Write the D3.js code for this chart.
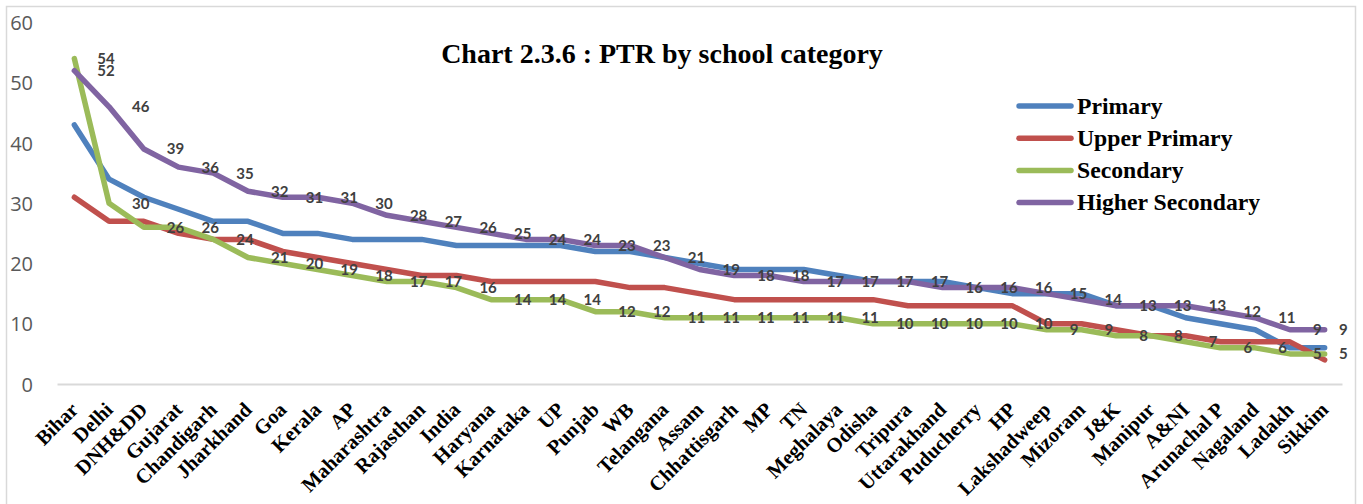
<!DOCTYPE html>
<html>
<head>
<meta charset="utf-8">
<script src="https://cdn.jsdelivr.net/npm/d3@7"></script>
<style>
  html, body { margin: 0; padding: 0; background: #fff; }
  svg { display: block; }
</style>
</head>
<body>
<svg id="chart" width="1363" height="504"></svg>
<script>
const categories = ["Bihar","Delhi","DNH&DD","Gujarat","Chandigarh","Jharkhand","Goa","Kerala","AP","Maharashtra","Rajasthan","India","Haryana","Karnataka","UP","Punjab","WB","Telangana","Assam","Chhattisgarh","MP","TN","Meghalaya","Odisha","Tripura","Uttarakhand","Puducherry","HP","Lakshadweep","Mizoram","J&K","Manipur","A&NI","Arunachal P","Nagaland","Ladakh","Sikkim"];
const primary = [43,34,31,29,27,27,25,25,24,24,24,23,23,23,23,22,22,21,20,19,19,19,18,17,17,17,16,15,15,15,13,13,11,10,9,6,6];
const upperPrimary = [31,27,27,25,24,24,22,21,20,19,18,18,17,17,17,17,16,16,15,14,14,14,14,14,13,13,13,13,10,10,9,8,8,7,7,7,4];
const secondary = [54,30,26,26,24,21,20,19,18,17,17,16,14,14,14,12,12,11,11,11,11,11,11,10,10,10,10,10,9,9,8,8,7,6,6,5,5];
const higherSecondary = [52,46,39,36,35,32,31,31,30,28,27,26,25,24,24,23,23,21,19,18,18,17,17,17,17,16,16,16,15,14,13,13,13,12,11,9,9];
const seriesNames = ["Primary","Upper Primary","Secondary","Higher Secondary"];
const seriesColors = ["#4F81BD","#C0504D","#9BBB59","#8064A2"];
const yTicks = [0,10,20,30,40,50,60];
const titleText = "Chart 2.3.6 : PTR by school category";

const series = [
  {name: seriesNames[0], values: primary, color: seriesColors[0], labels: false},
  {name: seriesNames[1], values: upperPrimary, color: seriesColors[1], labels: false},
  {name: seriesNames[2], values: secondary, color: seriesColors[2], labels: true},
  {name: seriesNames[3], values: higherSecondary, color: seriesColors[3], labels: true}
];

const svg = d3.select("#chart");

// chart area border
svg.append("rect").attr("x", 6.5).attr("y", 6.5).attr("width", 1349).attr("height", 500)
  .attr("fill", "#fff").attr("stroke", "#D9D9D9").attr("stroke-width", 1.5);

const x = d3.scaleBand().domain(categories).range([57, 1342]).padding(0);
const cx = d => x(d) + x.bandwidth() / 2;
const y = d3.scaleLinear().domain([0, 60]).range([384, 22.5]);

// y axis labels
const yAxis = d3.axisLeft(y).tickValues(yTicks).tickSize(0).tickPadding(0);
const yg = svg.append("g").attr("transform", "translate(33,0)").call(yAxis);
yg.select(".domain").remove();
yg.selectAll("text").attr("fill", "#595959").attr("font-family", "'Open Sans', sans-serif")
  .attr("font-size", 20).attr("dy", "0.36em");

// x axis line
const xAxis = d3.axisBottom(x).tickSize(0).tickFormat("");
const xg = svg.append("g").attr("transform", `translate(0,${y(0)})`).call(xAxis);
xg.select(".domain").attr("stroke", "#D9D9D9").attr("stroke-width", 2);

// x labels rotated
svg.append("g").selectAll("text").data(categories).join("text")
  .attr("transform", d => `translate(${cx(d) + 5},${y(0) + 27}) rotate(-45)`)
  .attr("text-anchor", "end")
  .attr("font-family", "'Liberation Serif', 'Times New Roman', serif")
  .attr("font-weight", "bold").attr("font-size", 20.5).attr("fill", "#000")
  .text(d => d);

// lines
const line = d3.line().x((d, i) => cx(categories[i])).y(d => y(d)).curve(d3.curveLinear);
svg.append("g").selectAll("path").data(series).join("path")
  .attr("d", s => line(s.values))
  .attr("fill", "none").attr("stroke", s => s.color).attr("stroke-width", 5.5)
  .attr("stroke-linejoin", "round").attr("stroke-linecap", "round");

// data labels
const lg = svg.append("g");
series.filter(s => s.labels).forEach(s => {
  lg.selectAll(null).data(s.values).join("text")
    .attr("x", (d, i) => Math.min(cx(categories[i]) + 23, 1339))
    .attr("y", d => y(d)).attr("dy", "0.36em")
    .attr("font-family", "Lato, 'Open Sans', sans-serif").attr("font-weight", "bold")
    .attr("font-size", 15).attr("fill", "#404040")
    .text(d => d);
});

// title
svg.append("text").attr("x", 662).attr("y", 63).attr("text-anchor", "middle")
  .attr("font-family", "'Liberation Serif', 'Times New Roman', serif")
  .attr("font-weight", "bold").attr("font-size", 28).attr("fill", "#000")
  .text(titleText);

// legend
const leg = svg.append("g");
series.forEach((s, i) => {
  const ly = 106 + i * 32.2;
  leg.append("line").attr("x1", 1019).attr("x2", 1071).attr("y1", ly).attr("y2", ly)
    .attr("stroke", s.color).attr("stroke-width", 5.5).attr("stroke-linecap", "round");
  leg.append("text").attr("x", 1077).attr("y", ly).attr("dy", "0.33em")
    .attr("font-family", "'Liberation Serif', 'Times New Roman', serif")
    .attr("font-weight", "bold").attr("font-size", 23.7).attr("fill", "#000")
    .text(s.name);
});
</script>
</body>
</html>
